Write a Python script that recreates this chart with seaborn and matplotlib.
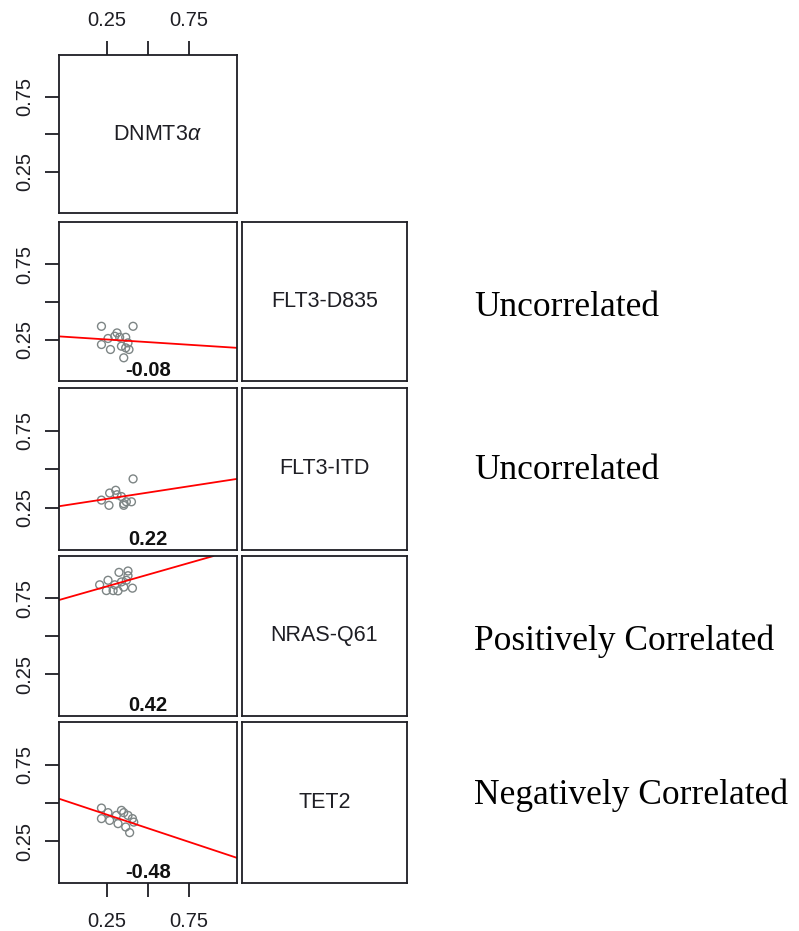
import matplotlib
matplotlib.use("Agg")
import matplotlib.pyplot as plt
import seaborn as sns

# variable names (diagonal labels)
first_var = "DNMT3$\\alpha$"
other_vars = ["FLT3-D835", "FLT3-ITD", "NRAS-Q61", "TET2"]

# DNMT3a (x) vs each other variable (y)
d835_x = [0.216, 0.409, 0.311, 0.256, 0.297, 0.327, 0.364, 0.216, 0.271, 0.338, 0.364, 0.384, 0.352, 0.378]
d835_y = [0.338, 0.338, 0.294, 0.257, 0.272, 0.265, 0.265, 0.217, 0.184, 0.206, 0.195, 0.184, 0.129, 0.228]

itd_x = [0.409, 0.216, 0.262, 0.266, 0.303, 0.311, 0.338, 0.352, 0.368, 0.399, 0.352]
itd_y = [0.438, 0.300, 0.266, 0.346, 0.364, 0.335, 0.323, 0.277, 0.289, 0.289, 0.266]

nras_x = [0.205, 0.256, 0.246, 0.287, 0.297, 0.323, 0.378, 0.338, 0.368, 0.352, 0.405, 0.378, 0.317]
nras_y = [0.840, 0.870, 0.802, 0.802, 0.840, 0.922, 0.931, 0.859, 0.870, 0.825, 0.818, 0.900, 0.800]

tet2_x = [0.216, 0.256, 0.216, 0.266, 0.307, 0.338, 0.352, 0.378, 0.405, 0.317, 0.364, 0.388, 0.413]
tet2_y = [0.466, 0.436, 0.397, 0.385, 0.418, 0.451, 0.436, 0.418, 0.397, 0.364, 0.342, 0.305, 0.374]

# fitted lines (intercept, slope) as drawn in the panels
fit_intercept = [0.268, 0.267, 0.753, 0.512]
fit_slope = [-0.070, 0.164, 0.308, -0.357]

corr_labels = ["-0.08", "0.22", "0.42", "-0.48"]
verdicts = ["Uncorrelated", "Uncorrelated", "Positively Correlated", "Negatively Correlated"]

tick_vals = [0.25, 0.5, 0.75]
tick_text = ["0.25", "", "0.75"]

sns.set_theme(style="ticks")
plt.rcParams['font.family'] = ['Liberation Sans', 'DejaVu Sans']
plt.rcParams['mathtext.fontset'] = 'custom'
plt.rcParams['mathtext.rm'] = 'Liberation Sans'
plt.rcParams['mathtext.it'] = 'Liberation Sans:italic'

W, H = 799, 931
fig = plt.figure(figsize=(W / 100, H / 100), dpi=100)

rows_px = [(55, 213), (222, 381), (388, 550), (556, 716), (722, 883)]
col1 = (59, 237)
col2 = (242, 407)
lims = (-0.043, 1.043)
ylims = (-0.025, 1.03)
ink = '#1e1e24'


def make_ax(col, row):
    l, r = col
    t, b = row
    ax = fig.add_axes([l / W, 1 - b / H, (r - l) / W, (b - t) / H])
    ax.set_xlim(*lims)
    ax.set_ylim(*ylims)
    for s in ax.spines.values():
        s.set_visible(True)
        s.set_color(ink)
        s.set_linewidth(1.3)
    ax.tick_params(length=10, width=1.3, pad=8, labelsize=14.5, colors=ink,
                   left=True, bottom=True)
    ax.set_xlabel('')
    ax.set_ylabel('')
    return ax


pairs = [(d835_x, d835_y), (itd_x, itd_y), (nras_x, nras_y), (tet2_x, tet2_y)]

# top-left diagonal panel
ax0 = make_ax(col1, rows_px[0])
ax0.text(0.555, 0.5, first_var, transform=ax0.transAxes, ha='center', va='center',
         fontsize=15.5, color=ink)
ax0.set_yticks(tick_vals, tick_text)
plt.setp(ax0.get_yticklabels(), rotation=90, va='center')
ax0.xaxis.tick_top()
ax0.set_xticks(tick_vals, tick_text)

for i, (xs, ys) in enumerate(pairs):
    ax = make_ax(col1, rows_px[i + 1])
    sns.scatterplot(x=xs, y=ys, ax=ax, marker='o', s=32, facecolors='none',
                    edgecolor='#7d8585', linewidth=1.0)
    ax.axline((0, fit_intercept[i]), slope=fit_slope[i], color='red', lw=1.3)
    ax.set_xlim(*lims)
    ax.set_ylim(*ylims)
    ax.text(0.5, 0.03, corr_labels[i], transform=ax.transAxes, ha='center', va='baseline',
            fontsize=14.5, fontweight='bold', color='#111111')
    ax.set_yticks(tick_vals, tick_text)
    plt.setp(ax.get_yticklabels(), rotation=90, va='center')
    if i == len(pairs) - 1:
        ax.set_xticks(tick_vals, tick_text)
        ax.tick_params(axis='x', pad=11)
    else:
        ax.set_xticks([])

    ax2 = make_ax(col2, rows_px[i + 1])
    ax2.set_xticks([])
    ax2.set_yticks([])
    ax2.text(0.5, 0.5, other_vars[i], transform=ax2.transAxes, ha='center', va='center',
             fontsize=15.5, color=ink)

# verdict text on the right
baselines = [315.7, 479.3, 650.5, 804]
for txt, bl in zip(verdicts, baselines):
    fig.text(474 / W, 1 - bl / H, txt, family=['Liberation Serif'], fontsize=25.5,
             ha='left', va='baseline', color='black')

fig.savefig("out.png", dpi=100)
